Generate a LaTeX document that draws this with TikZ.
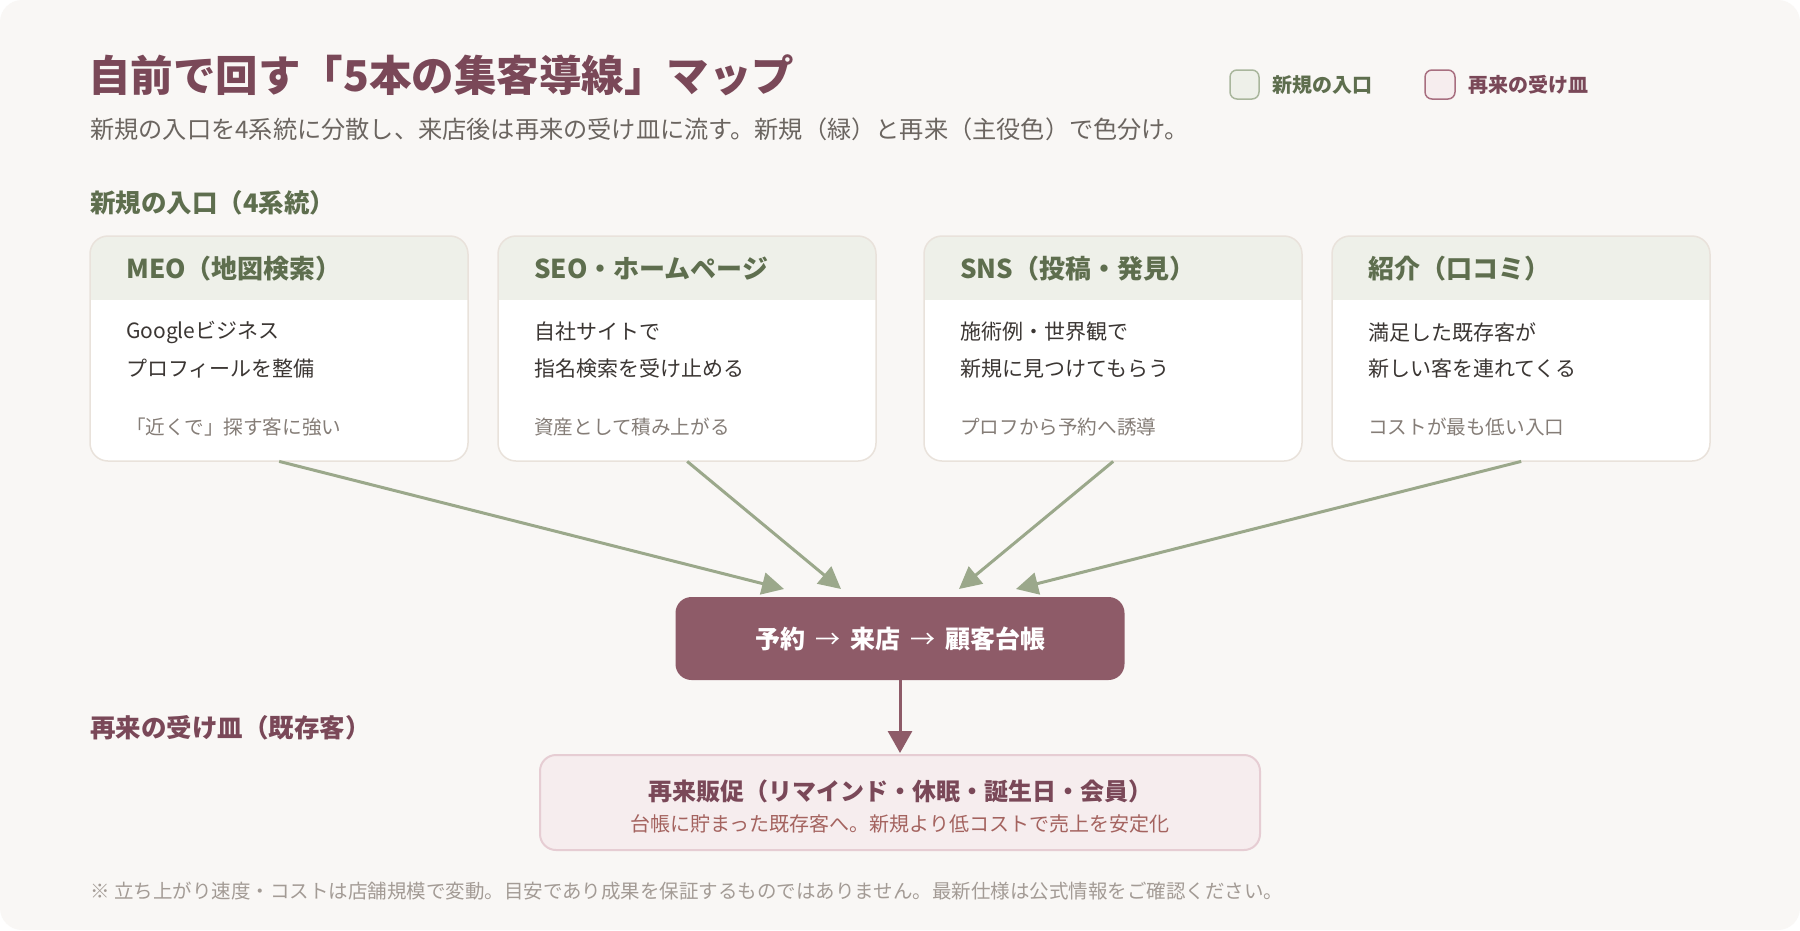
\documentclass[tikz,border=0pt]{standalone}
\usepackage{fontspec}
\setmainfont{Noto Sans CJK JP}
\usetikzlibrary{arrows.meta,calc}
\definecolor{bg}{HTML}{F9F7F5}
\definecolor{maroon}{HTML}{8E5B68}
\definecolor{titlec}{HTML}{7A4858}
\definecolor{grn}{HTML}{5E6E4E}
\definecolor{arrg}{HTML}{9BA88B}
\definecolor{hdr}{HTML}{EEF0E9}
\definecolor{cardbd}{HTML}{E9E2DB}
\definecolor{bodyt}{HTML}{3B3633}
\definecolor{notet}{HTML}{857D77}
\definecolor{subt}{HTML}{6B6560}
\definecolor{pinkf}{HTML}{F6EDEE}
\definecolor{pinkb}{HTML}{E6CDD3}
\definecolor{pinkt}{HTML}{A4635F}
\definecolor{foot}{HTML}{A39B95}
\definecolor{leggb}{HTML}{A9B69C}
\definecolor{legpb}{HTML}{A86F80}
\tikzset{
  txt/.style={inner sep=0pt, anchor=west},
  heading/.style={txt, text=grn, font=\fontsize{26}{30}\selectfont\bfseries},
  bodytxt/.style={txt, text=bodyt, font=\fontsize{21}{25}\selectfont},
  notetxt/.style={txt, text=notet, font=\fontsize{19.6}{23}\selectfont},
  garrow/.style={draw=arrg, line width=3pt, -{Triangle[length=22pt,width=22pt]}, fill=arrg},
  marrow/.style={draw=maroon, line width=3pt, -{Triangle[length=22pt,width=24pt]}, fill=maroon},
}
\newcommand\mkcard[6]{%
  \node[inner sep=0pt, minimum width=378pt, minimum height=225pt, anchor=north west] (#1) at (#2,236) {};
  \fill[white, rounded corners=18pt] (#2,236) rectangle ++(378,225);
  \begin{scope}
    \clip[rounded corners=18pt] (#2,236) rectangle ++(378,225);
    \fill[hdr] (#2,236) rectangle ++(378,64);
  \end{scope}
  \draw[cardbd, line width=1.5pt, rounded corners=18pt] (#2,236) rectangle ++(378,225);
  \node[heading] (#1h) at (#2+36,269) {#3};
  \node[bodytxt] (#1a) at (#2+36,332) {#4};
  \node[bodytxt] (#1b) at (#2+36,369) {#5};
  \node[notetxt] (#1n) at (#2+36,427) {#6};
}
\newcommand\harr{\hspace{0.4em}{\mdseries →}\hspace{0.4em}}
\begin{document}
\begin{tikzpicture}[x=1pt,y=-1pt]
\useasboundingbox (0,0) rectangle (1800,930);
\fill[white] (0,0) rectangle (1800,930);
\fill[bg, rounded corners=22pt] (0,0) rectangle (1800,930);

\node[txt, text=titlec, font=\fontsize{42.5}{48}\selectfont\bfseries] (title) at (88,75) {自前で回す「5本の集客導線」マップ};
\node[txt, text=subt, font=\fontsize{24.2}{28}\selectfont] (sub) at (90,129) {新規の入口を4系統に分散し、来店後は再来の受け皿に流す。新規（緑）と再来（主役色）で色分け。};

% legend
\draw[fill=hdr, draw=leggb, line width=1.5pt, rounded corners=7pt] (1230,70) rectangle (1259,99);
\node[txt, text=grn, font=\fontsize{20}{24}\selectfont\bfseries] (lg) at (1272,85) {新規の入口};
\draw[fill=pinkf, draw=legpb, line width=1.5pt, rounded corners=7pt] (1425,70) rectangle (1455,99);
\node[txt, text=titlec, font=\fontsize{20}{24}\selectfont\bfseries] (lp) at (1468,85) {再来の受け皿};

\node[txt, text=grn, font=\fontsize{25.5}{29}\selectfont\bfseries] (sec1) at (90,203) {新規の入口（4系統）};

\mkcard{c1}{90}{MEO（地図検索）}{Googleビジネス}{プロフィールを整備}{「近くで」探す客に強い}
\mkcard{c2}{498}{SEO・ホームページ}{自社サイトで}{指名検索を受け止める}{資産として積み上がる}
\mkcard{c3}{924}{SNS（投稿・発見）}{施術例・世界観で}{新規に見つけてもらう}{プロフから予約へ誘導}
\mkcard{c4}{1332}{紹介（口コミ）}{満足した既存客が}{新しい客を連れてくる}{コストが最も低い入口}

% hub
\node[fill=maroon, rounded corners=16pt, minimum width=449pt, minimum height=83pt, inner sep=0pt, text=white, font=\fontsize{25}{29}\selectfont\bfseries] (hub) at (900,638.5) {予約\harr 来店\harr 顧客台帳};

\coordinate (t1) at (784,589);
\coordinate (t2) at (841,589);
\coordinate (t3) at (959,589);
\coordinate (t4) at (1016,589);
\draw[garrow] (c1.south) -- (t1);
\draw[garrow] (c2.south) -- (t2);
\draw[garrow] (c3.south) -- (t3);
\draw[garrow] (c4.south) -- (t4);

\node[txt, text=titlec, font=\fontsize{25.5}{29}\selectfont\bfseries] (sec2) at (90,728) {再来の受け皿（既存客）};

\node[fill=pinkf, draw=pinkb, line width=2pt, rounded corners=16pt, minimum width=720pt, minimum height=95pt, inner sep=0pt] (rb) at (900,802.5) {};
\node[inner sep=0pt, text=titlec, font=\fontsize{24}{28}\selectfont\bfseries] (rbt) at (900,791) {再来販促（リマインド・休眠・誕生日・会員）};
\node[inner sep=0pt, text=pinkt, font=\fontsize{20}{24}\selectfont] (rbs) at (900,824) {台帳に貯まった既存客へ。新規より低コストで売上を安定化};

\coordinate (tb) at (900,753);
\draw[marrow] (hub.south) -- (tb);

\node[txt, text=foot, font=\fontsize{19.5}{23}\selectfont] (fn) at (90,891) {※ 立ち上がり速度・コストは店舗規模で変動。目安であり成果を保証するものではありません。最新仕様は公式情報をご確認ください。};
\end{tikzpicture}
\end{document}
